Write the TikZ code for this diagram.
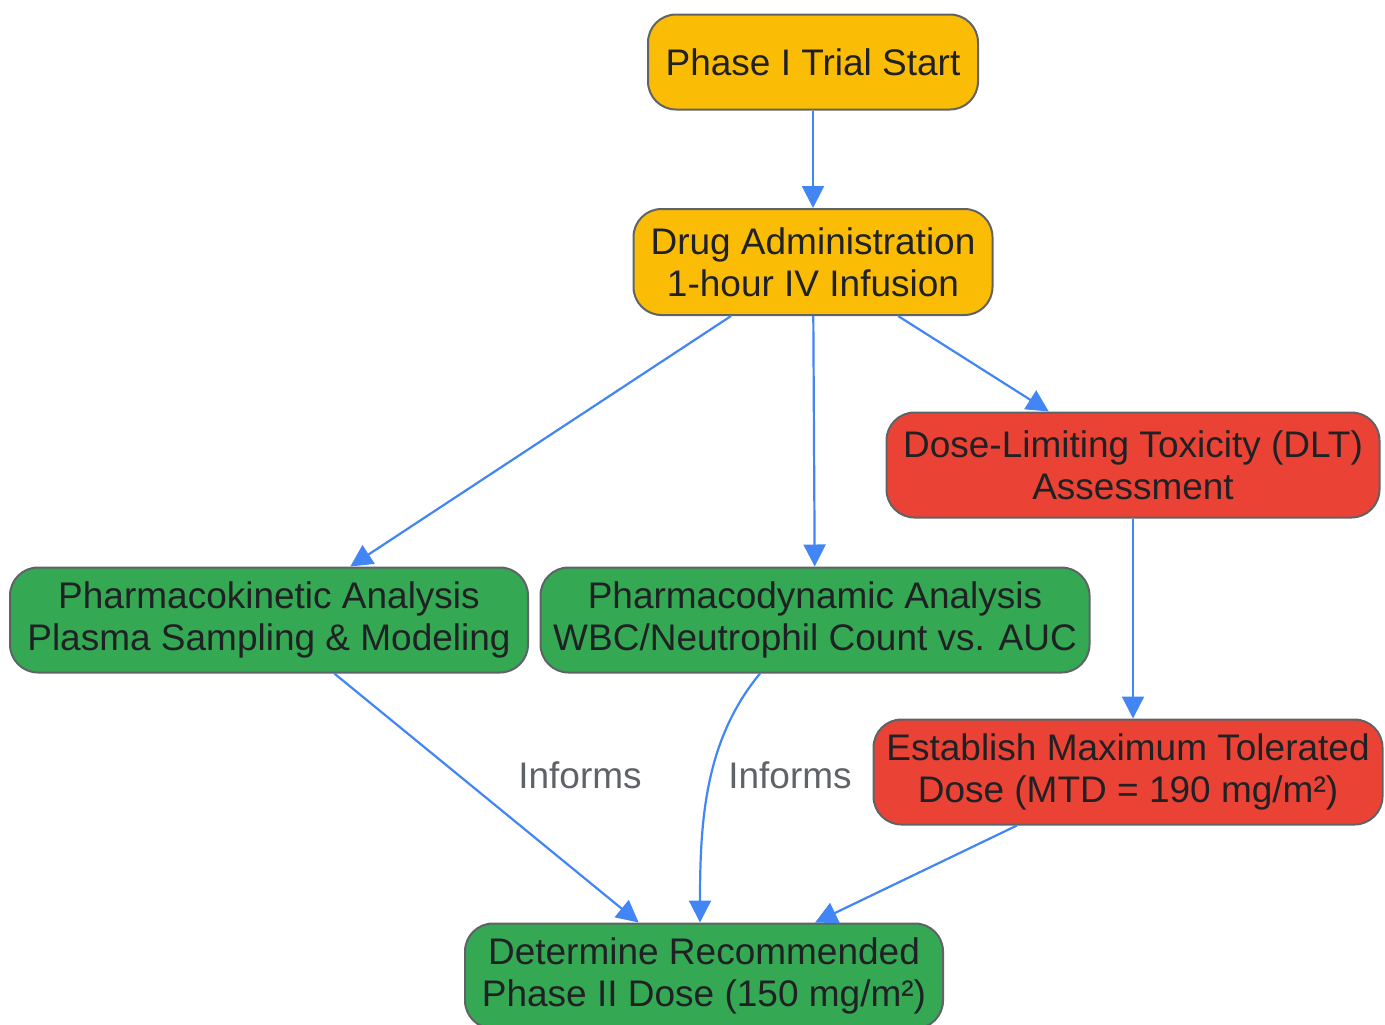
\documentclass[tikz,border=0pt]{standalone}
\usepackage{fontspec}
\setmainfont{Liberation Sans}
\usepackage{tikz}
\usetikzlibrary{arrows.meta}
\tikzset{>={Triangle[length=11pt,width=11pt]}}
\definecolor{gyellow}{HTML}{FBBC05}
\definecolor{gred}{HTML}{EA4335}
\definecolor{ggreen}{HTML}{34A853}
\definecolor{gblue}{HTML}{4285F4}
\definecolor{ggray}{HTML}{5F6368}
\definecolor{gtext}{HTML}{202124}
\tikzset{box/.style={draw=ggray,line width=1pt,rounded corners=14pt,
    align=center,text=gtext,inner sep=0pt,
    font=\fontsize{18.5pt}{21pt}\selectfont},
  flow/.style={->,draw=gblue,line width=1.1pt},
  lbl/.style={text=ggray,font=\fontsize{18.5pt}{21pt}\selectfont}}

\begin{document}
\begin{tikzpicture}[x=0.5pt,y=-0.5pt]
    \useasboundingbox (0,0) rectangle (1385,1024);
    %nodes
    \node[box,fill=gyellow,minimum width=165pt,minimum height=47.5pt] (start) at (813,62) {Phase I Trial Start};
    \node[box,fill=gyellow,minimum width=179.5pt,minimum height=53pt] (admin) at (813,262) {Drug Administration\\1-hour IV Infusion};
    \node[box,fill=gred,minimum width=246.5pt,minimum height=52.5pt] (dlt) at (1133,465) {Dose-Limiting Toxicity (DLT)\\Assessment};
    \node[box,fill=ggreen,minimum width=259pt,minimum height=52.5pt] (pk) at (269,620) {Pharmacokinetic Analysis\\Plasma Sampling \& Modeling};
    \node[box,fill=ggreen,minimum width=274.5pt,minimum height=52.5pt] (pd) at (815,620) {Pharmacodynamic Analysis\\WBC/Neutrophil Count vs. AUC};
    \node[box,fill=gred,minimum width=254.5pt,minimum height=52.5pt] (mtd) at (1128,772) {Establish Maximum Tolerated\\Dose (MTD = 190 mg/m²)};
    \node[box,fill=ggreen,minimum width=239pt,minimum height=52.5pt] (rp2d) at (704,976) {Determine Recommended\\Phase II Dose (150 mg/m²)};
    %labels
    \node[lbl] (infA) at (580,775) {Informs};
    \node[lbl] (infB) at (790,775) {Informs};
    %edges
    \draw[flow] (start) -- (admin);
    \draw[flow] (admin) -- (pk);
    \draw[flow] (admin) -- (pd);
    \draw[flow] (admin) -- (dlt);
    \draw[flow] (dlt) -- (dlt |- mtd.north);
    \draw[flow] (pk) -- (rp2d);
    \draw[flow] ([xshift=-27.5pt]pd.south) .. controls (705,740) and (700,820) .. ([xshift=-2pt]rp2d.north);
    \draw[flow] (mtd) -- (rp2d);
\end{tikzpicture}
\end{document}
